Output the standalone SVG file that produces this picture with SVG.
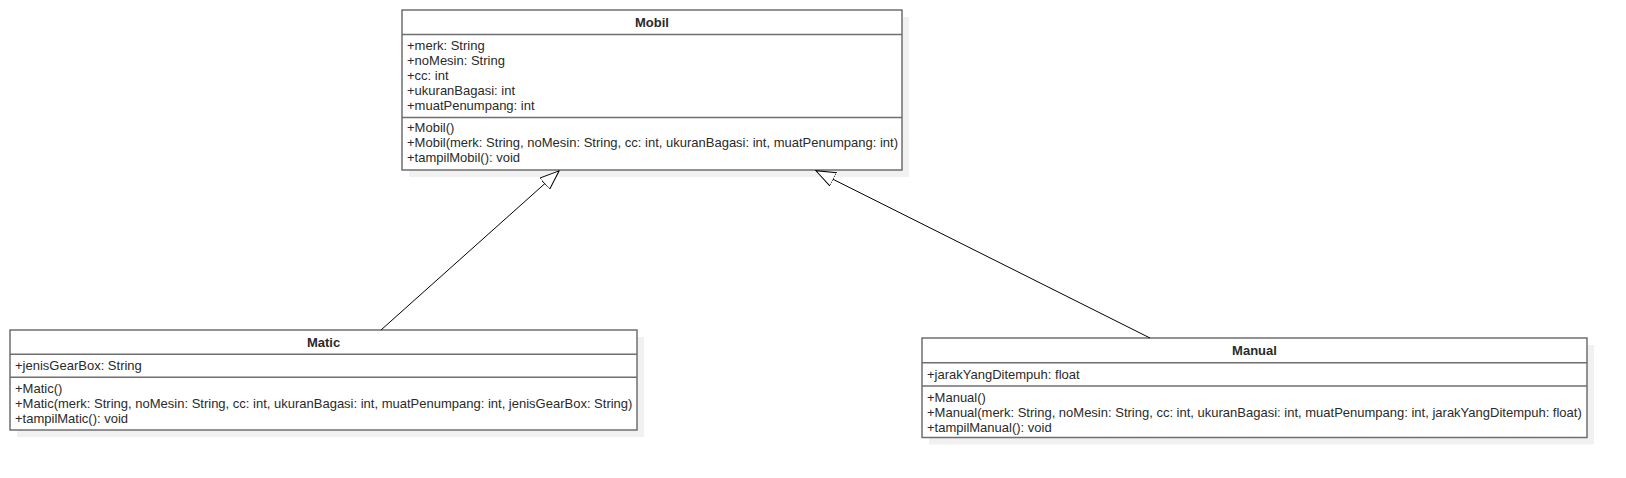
<svg xmlns="http://www.w3.org/2000/svg" width="1626" height="478" viewBox="0 0 1626 478">
<style>
  .shadow { fill: #f1f1f1; stroke: none; }
  .box { fill: #ffffff; stroke: #6f6f6f; stroke-width: 1.5; }
  .sep { stroke: #6f6f6f; stroke-width: 1.5; }
  .title { font-family: "Liberation Sans", Arial, sans-serif; font-size: 13px; font-weight: bold; fill: #2a2a2a; text-anchor: middle; }
  .member { font-family: "Liberation Sans", Arial, sans-serif; font-size: 13px; fill: #2a2a2a; }
  .conn { fill: none; stroke: #000000; stroke-width: 1; }
</style>
<defs>
  <marker id="gen" viewBox="0 0 20 16" refX="20" refY="8" markerWidth="20" markerHeight="16" markerUnits="userSpaceOnUse" orient="auto">
    <path d="M0,0.5 L19.5,8 L0,15.5 Z" fill="#ffffff" stroke="#000000" stroke-width="1"/>
  </marker>
</defs>
<rect width="1626" height="478" fill="#ffffff"/>

<g id="Mobil">
  <rect class="shadow" x="409" y="17" width="500" height="160"/>
  <rect class="box" x="402" y="10" width="500" height="160"/>
  <line class="sep" x1="402" y1="34.5" x2="902" y2="34.5"/>
  <line class="sep" x1="402" y1="117.5" x2="902" y2="117.5"/>
  <text class="title" x="652" y="27">Mobil</text>
  <text class="member" x="407" y="50">+merk: String</text>
  <text class="member" x="407" y="65">+noMesin: String</text>
  <text class="member" x="407" y="80">+cc: int</text>
  <text class="member" x="407" y="95">+ukuranBagasi: int</text>
  <text class="member" x="407" y="110">+muatPenumpang: int</text>
  <text class="member" x="407" y="132">+Mobil()</text>
  <text class="member" x="407" y="147">+Mobil(merk: String, noMesin: String, cc: int, ukuranBagasi: int, muatPenumpang: int)</text>
  <text class="member" x="407" y="162">+tampilMobil(): void</text>
</g>

<g id="Matic">
  <rect class="shadow" x="17" y="337" width="627" height="100"/>
  <rect class="box" x="10" y="330" width="627" height="100"/>
  <line class="sep" x1="10" y1="354.3" x2="637" y2="354.3"/>
  <line class="sep" x1="10" y1="377.3" x2="637" y2="377.3"/>
  <text class="title" x="323.5" y="347">Matic</text>
  <text class="member" x="15" y="370">+jenisGearBox: String</text>
  <text class="member" x="15" y="392.5">+Matic()</text>
  <text class="member" x="15" y="407.5">+Matic(merk: String, noMesin: String, cc: int, ukuranBagasi: int, muatPenumpang: int, jenisGearBox: String)</text>
  <text class="member" x="15" y="422.5">+tampilMatic(): void</text>
</g>

<g id="Manual">
  <rect class="shadow" x="929" y="345" width="665" height="99.5"/>
  <rect class="box" x="922" y="338" width="665" height="99.5"/>
  <line class="sep" x1="922" y1="362.7" x2="1587" y2="362.7"/>
  <line class="sep" x1="922" y1="386" x2="1587" y2="386"/>
  <text class="title" x="1254.5" y="355">Manual</text>
  <text class="member" x="927" y="378.5">+jarakYangDitempuh: float</text>
  <text class="member" x="927" y="401.5">+Manual()</text>
  <text class="member" x="927" y="416.5">+Manual(merk: String, noMesin: String, cc: int, ukuranBagasi: int, muatPenumpang: int, jarakYangDitempuh: float)</text>
  <text class="member" x="927" y="431.5">+tampilManual(): void</text>
</g>

<g id="connectors">
  <line class="conn" x1="381" y1="330" x2="559.5" y2="170.5" marker-end="url(#gen)"/>
  <line class="conn" x1="1150" y1="338" x2="815.5" y2="170.5" marker-end="url(#gen)"/>
</g>
</svg>
